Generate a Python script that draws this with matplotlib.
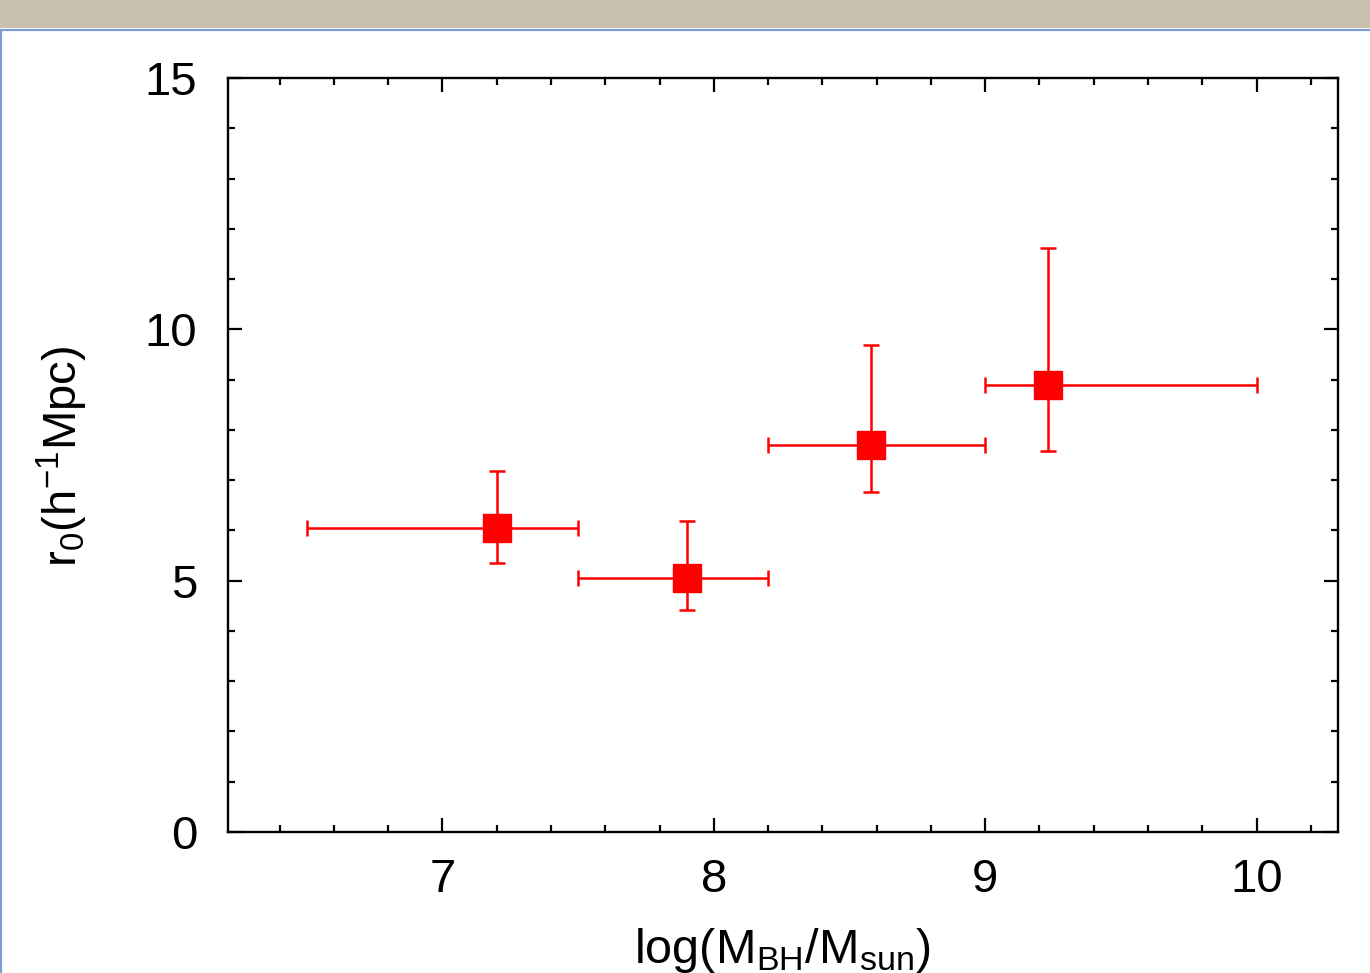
import numpy as np
import matplotlib
matplotlib.use("Agg")
import matplotlib.pyplot as plt
from matplotlib.ticker import MultipleLocator
from matplotlib.patches import Rectangle
from matplotlib.lines import Line2D

# data
log_mbh = [7.20, 7.90, 8.58, 9.23]
mbh_lo = [6.50, 7.50, 8.20, 9.00]
mbh_hi = [7.50, 8.20, 9.00, 10.00]
r0 = [6.05, 5.05, 7.70, 8.90]
r0_lo = [5.35, 4.42, 6.76, 7.58]
r0_hi = [7.18, 6.19, 9.68, 11.62]

plt.rcParams['font.family'] = ['Liberation Sans', 'DejaVu Sans']
plt.rcParams['mathtext.default'] = 'regular'

fig = plt.figure(figsize=(13.7, 9.73), dpi=100)
fig.patch.set_facecolor('white')

# window chrome from the screenshot
fig.patches.append(Rectangle((0, 1 - 28 / 973), 1, 28 / 973, transform=fig.transFigure,
                             facecolor='#c8c0ae', edgecolor='none', zorder=0))
fig.lines.append(Line2D([0, 1], [1 - 29.5 / 973] * 2, transform=fig.transFigure,
                        color='#7a9ed2', lw=1.6))
fig.lines.append(Line2D([0.7 / 1370] * 2, [0, 1 - 29.5 / 973], transform=fig.transFigure,
                        color='#7a9ed2', lw=1.6))

ax = fig.add_axes([228 / 1370, 1 - 832 / 973, 1110 / 1370, 754 / 973])

x = np.array(log_mbh)
y = np.array(r0)
xerr = [x - np.array(mbh_lo), np.array(mbh_hi) - x]
yerr = [y - np.array(r0_lo), np.array(r0_hi) - y]
ax.errorbar(x, y, xerr=xerr, yerr=yerr, fmt='s', color='red', ecolor='red',
            markersize=19.5, elinewidth=1.8, capsize=6, capthick=1.8, zorder=3)

ax.set_xlim(6.21, 10.30)
ax.set_ylim(0, 15)
ax.xaxis.set_major_locator(MultipleLocator(1))
ax.xaxis.set_minor_locator(MultipleLocator(0.2))
ax.yaxis.set_major_locator(MultipleLocator(5))
ax.yaxis.set_minor_locator(MultipleLocator(1))

ax.tick_params(which='both', direction='in', top=True, right=True, width=1.6, colors='black')
ax.tick_params(which='major', length=10)
ax.tick_params(which='minor', length=5)
ax.tick_params(axis='x', which='major', pad=19, labelsize=34)
ax.tick_params(axis='y', which='major', pad=22, labelsize=34)
for lbl in ax.get_xticklabels():
    lbl.set_x(lbl.get_position()[0])
for s in ax.spines.values():
    s.set_linewidth(1.7)

fig.text(62 / 1370, 1 - 456 / 973, r'r$_0$(h$^{-1}$Mpc)', rotation=90,
         ha='center', va='center', fontsize=34)
fig.text(782 / 1370, 1 - 963 / 973, r'log(M$_{BH}$/M$_{sun}$)',
         ha='center', va='baseline', fontsize=35)

fig.savefig('out.png', dpi=100, facecolor='white')
